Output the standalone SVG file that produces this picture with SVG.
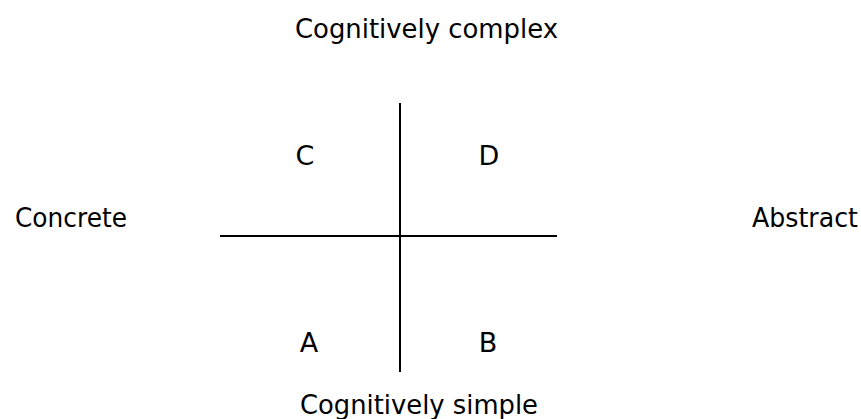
<svg xmlns="http://www.w3.org/2000/svg" width="861" height="419" viewBox="0 0 861 419">
<style>
text{font-family:"DejaVu Sans",Verdana,sans-serif;font-size:26px;fill:#000}
.q{text-anchor:middle;font-size:27px}
.ax{stroke:#000;stroke-width:2;fill:none}
</style>
<rect width="861" height="419" fill="#fff"/>
<g id="connectors">
<line class="ax" x1="400" y1="103" x2="400" y2="372"/>
<line class="ax" x1="220" y1="236" x2="557" y2="236"/>
</g>
<g id="top"><text x="295" y="38" textLength="263" lengthAdjust="spacingAndGlyphs">Cognitively  complex</text></g>
<g id="bottom"><text x="300" y="414" textLength="238" lengthAdjust="spacingAndGlyphs">Cognitively  simple</text></g>
<g id="left"><text x="15" y="227" textLength="112" lengthAdjust="spacingAndGlyphs">Concrete</text></g>
<g id="right"><text x="752" y="227" textLength="106" lengthAdjust="spacingAndGlyphs">Abstract</text></g>
<g id="C"><text class="q" x="305" y="165">C</text></g>
<g id="D"><text class="q" x="489" y="165">D</text></g>
<g id="A"><text class="q" x="309" y="352">A</text></g>
<g id="B"><text class="q" x="488" y="352">B</text></g>
</svg>
